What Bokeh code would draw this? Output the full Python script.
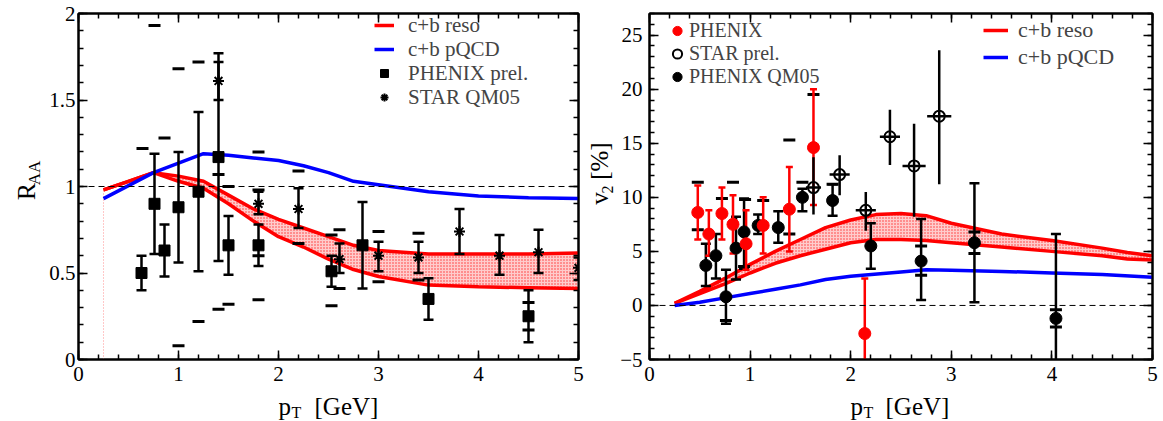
import math
from bokeh.plotting import figure
from bokeh.layouts import row, column
from bokeh.models import (FixedTicker, LinearAxis, Span, Legend, LegendItem,
                          CustomJSTickFormatter, Range1d)
from bokeh.core.properties import value
from bokeh.embed import file_html
from bokeh.resources import INLINE

FONT = "Liberation Serif"

# ---------------- left panel: R_AA ----------------
reso_x = [0.25, 0.5, 0.75, 1.0, 1.25, 1.5, 1.75, 2.0, 2.25, 2.5, 2.75, 3.0, 3.5, 4.0, 4.5, 5.0]
reso_up = [0.98, 1.03, 1.08, 1.06, 1.03, 0.95, 0.87, 0.81, 0.76, 0.71, 0.66, 0.63, 0.61, 0.61, 0.61, 0.615]
reso_lo = [0.98, 1.03, 1.08, 1.03, 0.99, 0.90, 0.80, 0.71, 0.65, 0.58, 0.52, 0.48, 0.43, 0.42, 0.415, 0.41]

pq_x = [0.25, 0.75, 1.25, 1.5, 1.75, 2.0, 2.25, 2.5, 2.75, 3.0, 3.5, 4.0, 4.5, 5.0]
pq_y = [0.93, 1.08, 1.19, 1.18, 1.165, 1.15, 1.12, 1.08, 1.03, 1.01, 0.97, 0.945, 0.935, 0.93]

phx_x = [0.63, 0.76, 0.86, 1.0, 1.2, 1.4, 1.5, 1.8, 2.53, 2.84, 3.5, 4.5]
phx_y = [0.50, 0.90, 0.63, 0.88, 0.97, 1.17, 0.66, 0.66, 0.51, 0.66, 0.35, 0.25]
phx_hi = [0.60, 1.19, 0.78, 1.20, 1.43, 1.77, 0.83, 0.78, 0.60, 0.91, 0.47, 0.40]
phx_lo = [0.40, 0.61, 0.48, 0.56, 0.51, 0.57, 0.49, 0.54, 0.42, 0.41, 0.23, 0.10]

star_x = [1.4, 1.8, 2.2, 2.61, 3.0, 3.4, 3.81, 4.21, 4.6, 5.0]
star_y = [1.61, 0.90, 0.87, 0.58, 0.60, 0.59, 0.74, 0.60, 0.62, 0.53]
star_hi = [1.72, 0.97, 0.99, 0.67, 0.68, 0.68, 0.87, 0.72, 0.75, 0.59]
star_lo = [1.50, 0.84, 0.76, 0.50, 0.51, 0.50, 0.61, 0.49, 0.50, 0.46]

raa_sys_x = [0.64, 0.76, 0.86, 1.0, 1.0, 1.2, 1.2, 1.4, 1.4, 1.5, 1.5, 1.8, 1.8, 1.8, 1.8,
             2.2, 2.2, 2.53, 2.53, 2.61, 2.61, 3.0, 3.0, 3.4, 3.4, 4.5, 4.5]
raa_sys_y = [1.22, 1.93, 1.28, 1.68, 0.08, 1.72, 0.22, 1.07, 0.29, 1.0, 0.32, 1.2, 0.345, 0.98, 0.60,
             1.09, 0.67, 0.72, 0.31, 0.75, 0.41, 0.74, 0.45, 0.73, 0.46, 0.33, 0.17]

raa_xticks = [0, 1, 2, 3, 4, 5]
raa_yticks = [0, 0.5, 1, 1.5, 2]
raa_ylabels = {0: "0", 0.5: "0.5", 1: "1", 1.5: "1.5", 2: "2"}

# ---------------- right panel: v2 ----------------
reso2_x = [0.25, 0.5, 0.75, 1.0, 1.25, 1.5, 1.75, 2.0, 2.25, 2.5, 2.75, 3.0, 3.5, 4.0, 4.5, 4.75, 5.0]
reso2_up = [0.2, 1.3, 2.5, 3.8, 5.0, 6.1, 7.2, 7.9, 8.4, 8.5, 8.3, 7.6, 6.6, 6.0, 5.3, 4.9, 4.6]
reso2_lo = [0.2, 1.1, 2.0, 3.0, 3.9, 4.6, 5.2, 5.8, 6.1, 6.1, 6.0, 5.8, 5.4, 5.0, 4.6, 4.3, 4.2]

pq2_x = [0.25, 0.5, 0.75, 1.0, 1.25, 1.5, 1.75, 2.0, 2.5, 2.75, 3.0, 3.5, 4.0, 4.5, 5.0]
pq2_y = [0.0, 0.3, 0.7, 1.1, 1.5, 1.9, 2.4, 2.7, 3.1, 3.3, 3.25, 3.15, 3.0, 2.85, 2.6]

ph_x = [0.48, 0.59, 0.72, 0.83, 0.96, 1.13, 1.39, 1.63, 2.14]
ph_y = [8.6, 6.6, 8.5, 7.5, 5.7, 7.4, 8.9, 14.6, -2.6]
ph_hi = [11.1, 8.8, 10.9, 10.2, 8.8, 10.0, 12.8, 20.0, 2.5]
ph_lo = [6.1, 4.6, 6.1, 4.8, 3.3, 4.8, 5.0, 9.3, -7.7]

st_x = [1.63, 1.89, 2.15, 2.39, 2.63, 2.88]
st_y = [10.9, 12.1, 8.8, 15.6, 12.9, 17.5]
st_hi = [13.7, 13.9, 10.5, 18.1, 16.8, 23.6]
st_lo = [8.4, 10.2, 6.9, 13.0, 8.2, 11.2]
st_dx = [0.075, 0.1, 0.1, 0.1, 0.115, 0.12]

qm_x = [0.56, 0.66, 0.76, 0.86, 0.94, 1.08, 1.28, 1.52, 1.82, 2.2, 2.70, 3.23, 4.04]
qm_y = [3.7, 4.6, 0.8, 5.3, 6.8, 7.4, 7.2, 10.0, 9.7, 5.5, 4.1, 5.8, -1.2]
qm_hi = [5.7, 6.6, 3.3, 8.2, 9.9, 8.4, 8.7, 10.8, 11.2, 7.6, 8.0, 11.3, 6.6]
qm_lo = [1.8, 2.5, -1.7, 2.4, 3.4, 6.6, 5.8, 8.7, 8.3, 3.4, 0.5, 0.3, -9.0]

v2_sys_x = [0.48, 0.48, 0.72, 0.83, 0.95, 1.13, 1.39, 1.39, 1.52, 1.63, 1.82,
            2.70, 2.70, 3.23, 3.23, 4.04, 4.04, 0.76, 0.94]
v2_sys_y = [11.4, 7.0, 9.9, 11.4, 9.8, 9.7, 15.3, 6.6, 11.4, 19.5, 11.2,
            5.5, 2.8, 6.8, 4.8, -0.4, -2.0, -1.4, 3.6]

v2_xticks = [0, 1, 2, 3, 4, 5]
v2_yticks = [-5, 0, 5, 10, 15, 20, 25]

ROW_H = 391
XLAB_H = 30
FRAME_TOP = 13
FRAME_H = 346
FRAME_BOTTOM = FRAME_TOP + FRAME_H  # 359 from page top


def minor(lo, hi, step):
    n = int(round((hi - lo) / step))
    return [round(lo + i * step, 6) for i in range(n + 1)]


def style_axis(ax, size="21px", standoff=8):
    ax.major_tick_in = 9
    ax.major_tick_out = 0
    ax.minor_tick_in = 5
    ax.minor_tick_out = 0
    ax.major_tick_line_width = 1.5
    ax.minor_tick_line_width = 1.5
    ax.major_tick_line_color = "black"
    ax.minor_tick_line_color = "black"
    ax.axis_line_width = 2
    ax.axis_line_color = "black"
    ax.major_label_text_font = FONT
    ax.major_label_text_font_size = size
    ax.major_label_text_color = "black"
    ax.major_label_standoff = standoff
    ax.axis_label = None


def make_fig(width, border_left, border_right, xr, yr, xt, xm, yt, ym, ystand):
    p = figure(width=width, height=ROW_H, x_range=Range1d(*xr), y_range=Range1d(*yr),
               output_backend="svg", toolbar_location=None,
               min_border_left=border_left, min_border_right=border_right,
               min_border_top=FRAME_TOP, min_border_bottom=ROW_H - FRAME_BOTTOM)
    p.grid.visible = False
    p.outline_line_color = "black"
    p.outline_line_width = 2
    p.background_fill_color = "white"
    p.xaxis.ticker = FixedTicker(ticks=xt, minor_ticks=xm)
    p.yaxis.ticker = FixedTicker(ticks=yt, minor_ticks=ym)
    for ax in p.xaxis:
        style_axis(ax, standoff=7)
    for ax in p.yaxis:
        style_axis(ax, standoff=ystand)
    blank = CustomJSTickFormatter(code="return ''")
    top = LinearAxis(ticker=FixedTicker(ticks=xt, minor_ticks=xm), formatter=blank)
    right = LinearAxis(ticker=FixedTicker(ticks=yt, minor_ticks=ym), formatter=blank)
    for ax in (top, right):
        style_axis(ax, size="1px", standoff=0)
    p.add_layout(top, "above")
    p.add_layout(right, "right")
    return p


def text_fig(width, height):
    f = figure(width=width, height=height, x_range=Range1d(0, width), y_range=Range1d(0, height),
               output_backend="svg", toolbar_location=None, x_axis_location=None,
               y_axis_location=None, min_border=0)
    f.grid.visible = False
    f.outline_line_color = None
    return f


def put(f, xs, ys, texts, size, angle=0.0):
    f.text(x=xs, y=ys, text=texts, angle=angle, text_font=value(FONT), text_font_size=size,
           text_baseline="middle", text_align="left", text_color="black")


def errbars(p, x, lo, hi, color, lw, cap):
    p.segment(x0=x, y0=lo, x1=x, y1=hi, line_color=color, line_width=lw)
    p.scatter(x=x, y=hi, marker="dash", size=cap, line_color=color, line_width=lw)
    p.scatter(x=x, y=lo, marker="dash", size=cap, line_color=color, line_width=lw)


def legend_row(p, renderer, label, gx, center_page_y, gw, stand, h, fsize):
    bottom = (FRAME_BOTTOM - center_page_y) - h / 2
    p.add_layout(Legend(items=[LegendItem(label=label, renderers=[renderer])],
                        location=(gx, bottom), label_text_font=FONT, label_text_font_size=fsize,
                        glyph_width=gw, glyph_height=h, label_height=h, label_standoff=stand,
                        spacing=0, padding=0, margin=0, border_line_alpha=0,
                        background_fill_alpha=0))


# ================= LEFT =================
p1 = make_fig(538, 32, 6, (0, 5), (0, 2), raa_xticks, minor(0, 5, 0.2),
              raa_yticks, minor(0, 2, 0.1), 3)
p1.yaxis[0].major_label_overrides = raa_ylabels

p1.add_layout(Span(location=1, dimension="width", line_color="black",
                   line_width=1, line_dash="6 4"))
p1.segment(x0=[reso_x[0]], y0=[0], x1=[reso_x[0]], y1=[reso_up[0]],
           line_color="#ff9090", line_width=1, line_dash="1 2")
p1.varea(x=reso_x, y1=reso_lo, y2=reso_up, fill_color="#ffcccc",
         hatch_pattern="dot", hatch_color="#ff3030", hatch_scale=3, hatch_weight=1)
r_up = p1.line(reso_x, reso_up, line_color="#ff0000", line_width=3.5)
p1.line(reso_x, reso_lo, line_color="#ff0000", line_width=3.5)
r_pq = p1.line(pq_x, pq_y, line_color="#0000ff", line_width=3.5)

p1.scatter(x=raa_sys_x, y=raa_sys_y, marker="dash", size=12, line_color="black", line_width=3)
errbars(p1, phx_x, phx_lo, phx_hi, "black", 2.5, 10)
errbars(p1, star_x, star_lo, star_hi, "black", 2.5, 10)
r_sq = p1.scatter(x=phx_x, y=phx_y, marker="square", size=11, fill_color="black", line_color="black")
r_st = p1.scatter(x=star_x, y=star_y, marker="asterisk", size=11, line_color="black", line_width=2)

legend_row(p1, r_up, "c+b reso", 296, 25.5, 20, 14, 24, "21px")
legend_row(p1, r_pq, "c+b pQCD", 296, 49.5, 20, 14, 24, "21px")
legend_row(p1, r_sq, "PHENIX prel.", 296, 73.5, 20, 14, 24, "21px")
legend_row(p1, r_st, "STAR QM05", 296, 97.5, 20, 14, 24, "21px")

# ================= RIGHT =================
p2 = make_fig(546, 32, 11, (0, 5), (-5, 27), v2_xticks, minor(0, 5, 0.2),
              v2_yticks, minor(-5, 27, 1), 7)

p2.add_layout(Span(location=0, dimension="width", line_color="black",
                   line_width=1, line_dash="6 4"))
p2.varea(x=reso2_x, y1=reso2_lo, y2=reso2_up, fill_color="#ffcccc",
         hatch_pattern="dot", hatch_color="#ff3030", hatch_scale=3, hatch_weight=1)
r2_up = p2.line(reso2_x, reso2_up, line_color="#ff0000", line_width=3.5)
p2.line(reso2_x, reso2_lo, line_color="#ff0000", line_width=3.5)
r2_pq = p2.line(pq2_x, pq2_y, line_color="#0000ff", line_width=3.5)

p2.scatter(x=v2_sys_x, y=v2_sys_y, marker="dash", size=12, line_color="black", line_width=3)
errbars(p2, qm_x, qm_lo, qm_hi, "black", 2.5, 10)
errbars(p2, ph_x, ph_lo, ph_hi, "#ff0000", 2.5, 7)
p2.segment(x0=st_x, y0=st_lo, x1=st_x, y1=st_hi, line_color="black", line_width=2.5)
p2.segment(x0=[a - d for a, d in zip(st_x, st_dx)], y0=st_y,
           x1=[a + d for a, d in zip(st_x, st_dx)], y1=st_y, line_color="black", line_width=2.5)

r_qm = p2.scatter(x=qm_x, y=qm_y, marker="circle", size=12, fill_color="black", line_color="black")
r_ph = p2.scatter(x=ph_x, y=ph_y, marker="circle", size=12, fill_color="#ff0000", line_color="#ff0000")
r_stp = p2.scatter(x=st_x, y=st_y, marker="circle", size=11, fill_color=None,
                   line_color="black", line_width=2)

legend_row(p2, r_ph, "PHENIX", 16, 30.5, 24, 0, 23, "20px")
legend_row(p2, r_stp, "STAR prel.", 16, 53.5, 24, 0, 23, "20px")
legend_row(p2, r_qm, "PHENIX QM05", 16, 76.5, 24, 0, 23, "20px")
legend_row(p2, r2_up, "c+b reso", 334, 30, 25, 10, 26, "22px")
legend_row(p2, r2_pq, "c+b pQCD", 334, 57, 25, 10, 26, "22px")

# ================= axis titles (text glyphs in blank strips) =================
ylab1 = text_fig(46, ROW_H)
put(ylab1, [26.3], [ROW_H - 211], ["R"], "26px", math.pi / 2)
put(ylab1, [34.3], [ROW_H - 194], ["AA"], "17px", math.pi / 2)

ylab2 = text_fig(33, ROW_H)
put(ylab2, [14.6], [ROW_H - 216], ["v"], "25px", math.pi / 2)
put(ylab2, [22.6], [ROW_H - 203.5], ["2"], "16px", math.pi / 2)
put(ylab2, [14.6], [ROW_H - 188], ["[%]"], "25px", math.pi / 2)

xlab = text_fig(1163, XLAB_H)
put(xlab, [278, 850], [15.4, 15.4], ["p", "p"], "25px")
put(xlab, [291, 863], [9.4, 9.4], ["T", "T"], "16px")
put(xlab, [314, 885], [15.4, 15.4], ["[GeV]", "[GeV]"], "25px")

layout = column(row(ylab1, p1, ylab2, p2, spacing=0), xlab, spacing=0)
open("out.html", "w").write(file_html(layout, INLINE))
